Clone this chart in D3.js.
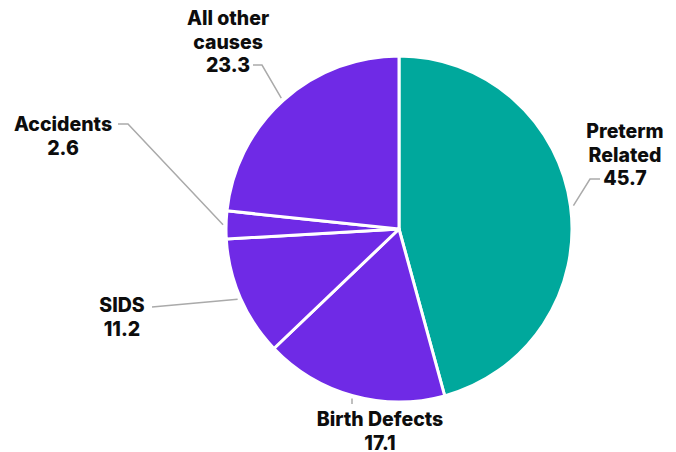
<!DOCTYPE html>
<html>
<head>
<meta charset="utf-8">
<script src="https://cdn.jsdelivr.net/npm/d3@7"></script>
<style>
  body { margin: 0; background: #fff; }
  .label { font-family: Inter, "Noto Sans", sans-serif; font-weight: 800; font-size: 19.5px; fill: #0d0d0d; }
  .leader { fill: none; stroke: #aaa; stroke-width: 1.5; }
</style>
</head>
<body>
<svg id="chart" width="676" height="452"></svg>
<script>
// Infant death causes (rate per 100)
const causes = ["Preterm Related", "Birth Defects", "SIDS", "Accidents", "All other causes"];
const rates = [45.7, 17.1, 11.2, 2.6, 23.3];
const labelLines = [["Preterm", "Related"], ["Birth Defects"], ["SIDS"], ["Accidents"], ["All other", "causes"]];
const colors = ["#00a89c", "#6f2ae6", "#6f2ae6", "#6f2ae6", "#6f2ae6"];

const width = 676, height = 452;
const cx = 399, cy = 229, radius = 173;
const lineGap = 23.5;

// label layout: elbow point, text end of leader, text centre and first baseline
const labelLayout = [
  { elbow: [590, 179], end: [600, 179], tx: 625, ty: 138 },
  { elbow: [352, 404], end: [352, 404], tx: 380, ty: 426 },
  { elbow: [152, 307], end: [152, 307], tx: 122, ty: 312 },
  { elbow: [128, 124], end: [118, 124], tx: 63, ty: 131 },
  { elbow: [262, 65], end: [253, 65], tx: 228, ty: 25 }
];

const svg = d3.select("#chart").attr("viewBox", `0 0 ${width} ${height}`);

const pie = d3.pie().sort(null).value(d => d);
const arcs = pie(rates);
const arc = d3.arc().innerRadius(0).outerRadius(radius);

const g = svg.append("g").attr("transform", `translate(${cx},${cy})`);

g.selectAll("path")
  .data(arcs)
  .join("path")
  .attr("d", arc)
  .attr("fill", (d, i) => colors[i])
  .attr("stroke", "#fff")
  .attr("stroke-width", 3)
  .attr("stroke-linejoin", "round");

// leaders
const edgeArc = d3.arc().innerRadius(radius + 3).outerRadius(radius + 3);
svg.selectAll("path.leader")
  .data(arcs)
  .join("path")
  .attr("class", "leader")
  .attr("d", (d, i) => {
    let [ex, ey] = edgeArc.centroid(d);
    let lay = labelLayout[i];
    return d3.line()([[cx + ex, cy + ey], lay.elbow, lay.end]);
  });

// labels
const labels = svg.selectAll("text.label")
  .data(arcs)
  .join("text")
  .attr("class", "label")
  .attr("text-anchor", "middle");

labels.each(function (d, i) {
  let lay = labelLayout[i];
  let lines = labelLines[i].concat([d3.format(".1f")(rates[i])]);
  d3.select(this).selectAll("tspan")
    .data(lines)
    .join("tspan")
    .attr("x", lay.tx)
    .attr("y", (l, j) => lay.ty + j * lineGap)
    .text(l => l);
});
</script>
</body>
</html>
